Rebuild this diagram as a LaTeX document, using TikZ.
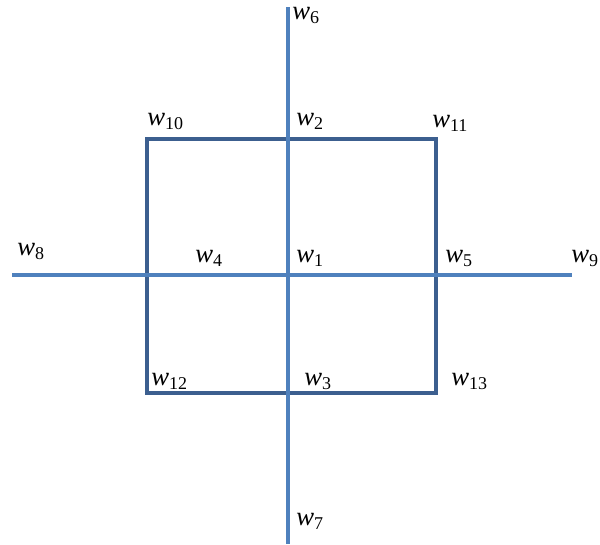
\documentclass[tikz,border=0pt]{standalone}
\usepackage{fontspec}
\setmainfont{Liberation Serif}
\newcommand{\wsub}[1]{\textit{w}\raisebox{-0.17em}{\fontsize{13.5}{13.5}\selectfont #1}}
\begin{document}
\begin{tikzpicture}[x=0.75pt,y=-0.75pt,
  axisline/.style={draw=axisblue,line width=2.3pt},
  boxline/.style={draw=boxblue,line width=2.3pt},
  lbl/.style={anchor=base west,inner sep=0pt,font=\fontsize{20}{20}\selectfont}]
\definecolor{axisblue}{HTML}{4F81BD}
\definecolor{boxblue}{HTML}{3C5F8F}
\useasboundingbox (0,0) rectangle (600,544);
% end points of the two axes
\coordinate (top) at (288,7);
\coordinate (bottom) at (288,544);
\coordinate (left) at (12,275);
\coordinate (right) at (572,275);
% corners of the square
\coordinate (c10) at (147,139);
\coordinate (c11) at (436,139);
\coordinate (c13) at (436,393);
\coordinate (c12) at (147,393);
\draw[boxline] (c10) -- (c11) -- (c13) -- (c12) -- cycle;
\draw[axisline] (top) -- (bottom);
\draw[axisline] (left) -- (right);
% labels
\node[lbl] (w6) at (292,19) {\wsub{6}};
\node[lbl] (w10) at (147,125) {\wsub{10}};
\node[lbl] (w2) at (296,125) {\wsub{2}};
\node[lbl] (w11) at (432,127) {\wsub{11}};
\node[lbl] (w8) at (17,255) {\wsub{8}};
\node[lbl] (w4) at (195,262) {\wsub{4}};
\node[lbl] (w1) at (296,262) {\wsub{1}};
\node[lbl] (w5) at (445,262) {\wsub{5}};
\node[lbl] (w9) at (571,262) {\wsub{9}};
\node[lbl] (w12) at (151,385) {\wsub{12}};
\node[lbl] (w3) at (304,385) {\wsub{3}};
\node[lbl] (w13) at (451,385) {\wsub{13}};
\node[lbl] (w7) at (296,525) {\wsub{7}};
\end{tikzpicture}
\end{document}
